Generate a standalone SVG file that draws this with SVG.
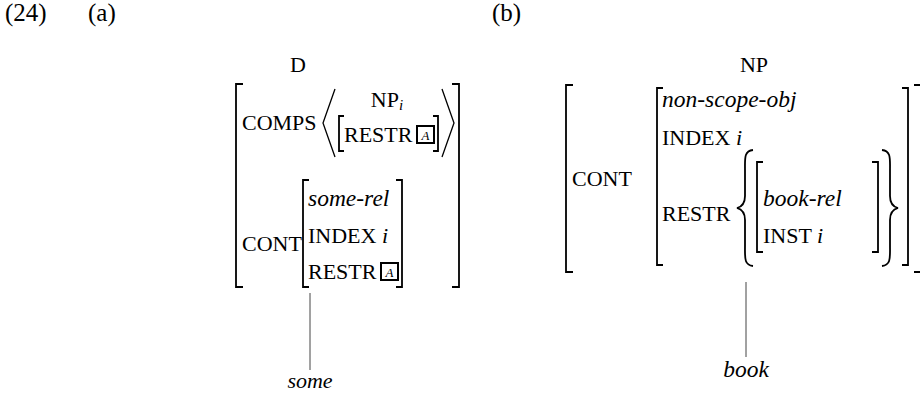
<svg xmlns="http://www.w3.org/2000/svg" width="920" height="394" viewBox="0 0 920 394">
<style>
text{font-family:"Liberation Serif","Times New Roman",serif;font-size:22px;fill:#000}
.lab{font-size:25px}
.it{font-style:italic}
.ti{font-style:italic;font-size:23.5px}
.sub{font-size:15px;font-style:italic}
.br{fill:none;stroke:#000;stroke-width:1.8}
.ang{fill:none;stroke:#000;stroke-width:1.3}
.brace{fill:none;stroke:#000;stroke-width:1.8}
.box{fill:none;stroke:#000;stroke-width:2}
.tag{font-size:13px;font-style:italic}
.edge{stroke:#444;stroke-width:1}
</style>
<rect width="920" height="394" fill="#fff"/>
<text class="lab" x="5" y="21">(24)</text>
<text class="lab" x="88" y="21">(a)</text>
<text class="lab" x="492" y="21">(b)</text>

<g id="node-a">
<text x="298" y="72" text-anchor="middle">D</text>
<path class="br" d="M243,84 H236 V287 H243 M452,84 H459 V287 H452"/>
<text x="242" y="130">COMPS</text>
<path class="ang" d="M335,89 L323,123 L335,157 M442,89 L454,123 L442,157"/>
<text x="387" y="107" text-anchor="middle">NP<tspan class="sub" dy="3">i</tspan></text>
<path class="br" d="M344,116 H339 V151 H344 M433,116 H438 V151 H433"/>
<text x="344" y="142">RESTR</text>
<rect class="box" x="417" y="126" width="17" height="17"/>
<text class="tag" x="425.5" y="139.5" text-anchor="middle">A</text>
<text x="242" y="251">CONT</text>
<path class="br" d="M309,180 H303 V287 H309 M396,180 H402 V287 H396"/>
<text class="ti" x="308" y="206">some-rel</text>
<text x="308" y="243">INDEX <tspan class="it">i</tspan></text>
<text x="308" y="279">RESTR</text>
<rect class="box" x="381" y="263" width="17" height="17"/>
<text class="tag" x="389.5" y="276.5" text-anchor="middle">A</text>
</g>

<g id="leaf-some">
<text class="it" x="310" y="388" text-anchor="middle">some</text>
</g>

<g id="node-b">
<text x="754" y="72" text-anchor="middle">NP</text>
<path class="br" d="M573,85 H566 V272 H573 M914,85 H921 V272 H914"/>
<text x="572" y="186">CONT</text>
<path class="br" d="M663,88 H657 V265 H663 M902,88 H908 V265 H902"/>
<text class="ti" x="662" y="107">non-scope-obj</text>
<text x="662" y="145">INDEX <tspan class="it">i</tspan></text>
<text x="662" y="221">RESTR</text>
<path class="brace" d="M753,150 C744,151 745,158 745,170 V196 C745,204 741,207 737,208 C741,209 745,212 745,220 V246 C745,258 744,265 753,266"/>
<path class="br" d="M763,162 H757 V252 H763 M872,162 H878 V252 H872"/>
<text class="ti" x="763" y="206">book-rel</text>
<text x="763" y="243">INST <tspan class="it">i</tspan></text>
<path class="brace" d="M882,150 C891,151 890,158 890,170 V196 C890,204 894,207 898,208 C894,209 890,212 890,220 V246 C890,258 891,265 882,266"/>
</g>

<g id="leaf-book">
<text class="ti" x="746" y="377" text-anchor="middle">book</text>
</g>

<g id="connectors">
<line class="edge" x1="310" y1="293" x2="310" y2="370"/>
<line class="edge" x1="746" y1="282" x2="746" y2="357"/>
</g>
</svg>
